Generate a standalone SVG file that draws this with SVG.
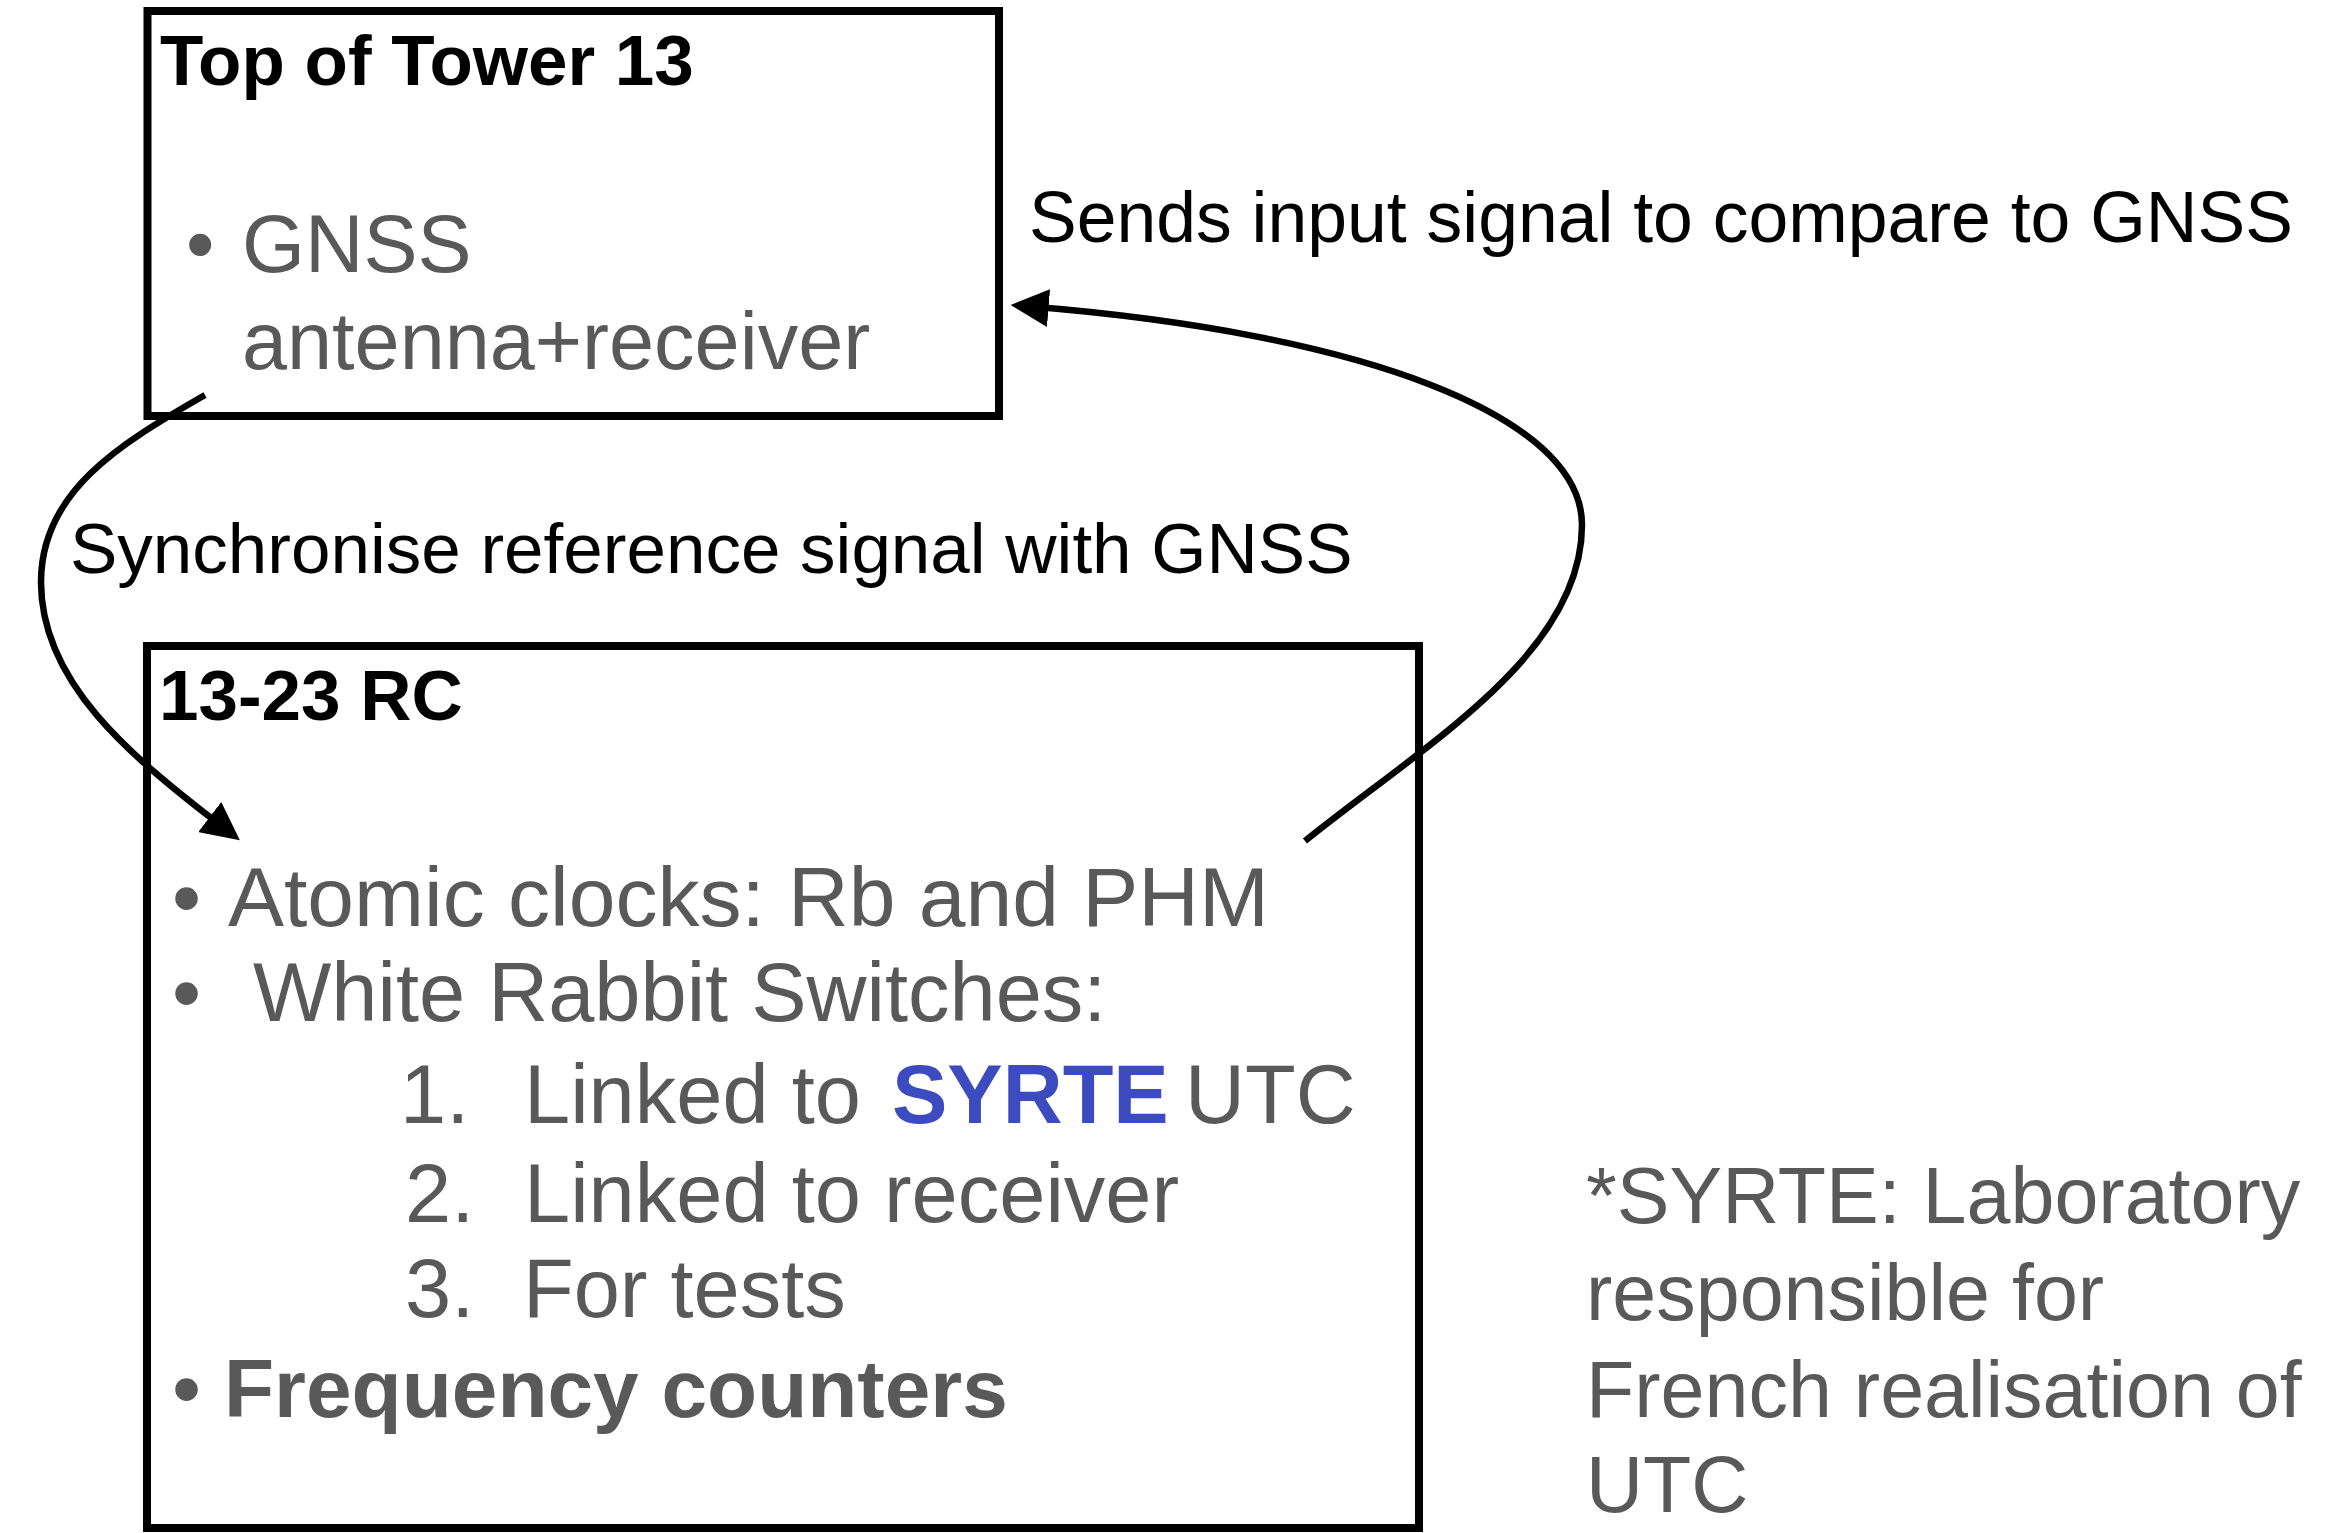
<svg xmlns="http://www.w3.org/2000/svg" width="2347" height="1533" viewBox="0 0 2347 1533">
  <style>
    .box { fill: none; stroke: #000; stroke-width: 8; }
    .title { font-family: "Liberation Sans", Arial, sans-serif; font-weight: bold; font-size: 71px; fill: #000; }
    .item { font-family: "Liberation Sans", Arial, sans-serif; font-size: 83px; fill: #595959; }
    .top { font-size: 81px; }
    .bold { font-weight: bold; font-size: 82px; }
    .syrte { font-weight: bold; fill: #3c4bbf; }
    .label { font-family: "Liberation Sans", Arial, sans-serif; font-size: 71.5px; fill: #000; }
    .note { font-family: "Liberation Sans", Arial, sans-serif; font-size: 79px; fill: #595959; }
    .conn { fill: none; stroke: #000; stroke-width: 6.5; }
  </style>
  <defs>
    <marker id="arrow" markerUnits="userSpaceOnUse" markerWidth="38" markerHeight="38" refX="18" refY="19" orient="auto" viewBox="0 0 38 38">
      <path d="M0,0 L38,19 L0,38 z" fill="#000"/>
    </marker>
  </defs>

  <g id="node-top-of-tower">
    <rect class="box" x="147.5" y="11" width="851.5" height="405"/>
    <text class="title" x="160" y="85">Top of Tower 13</text>
    <text class="item top" x="186" y="272">•</text>
    <text class="item top" x="242" y="272">GNSS</text>
    <text class="item top" x="242" y="369">antenna+receiver</text>
  </g>

  <g id="node-rc">
    <rect class="box" x="147" y="646" width="1272" height="882"/>
    <text class="title" x="159" y="720">13-23 RC</text>
    <text class="item" x="172" y="926">•</text>
    <text class="item" x="228" y="926" style="font-size:84px">Atomic clocks: Rb and PHM</text>
    <text class="item" x="172" y="1021">•</text>
    <text class="item" x="253" y="1021">White Rabbit Switches:</text>
    <text class="item" x="400" y="1123">1.</text>
    <text class="item" x="524" y="1123">Linked to <tspan class="syrte" x="892">SYRTE</tspan><tspan x="1185">UTC</tspan></text>
    <text class="item" x="405" y="1222">2.</text>
    <text class="item" x="524" y="1222">Linked to receiver</text>
    <text class="item" x="405" y="1317">3.</text>
    <text class="item" x="523" y="1317">For tests</text>
    <text class="item" x="172" y="1417">•</text>
    <text class="item bold" x="224" y="1417">Frequency counters</text>
  </g>

  <g id="footnote">
    <text class="note" x="1586" y="1223">*SYRTE: Laboratory</text>
    <text class="note" x="1586" y="1320">responsible for</text>
    <text class="note" x="1586" y="1417">French realisation of</text>
    <text class="note" x="1586" y="1512">UTC</text>
  </g>

  <g id="connectors">
    <path id="sync" class="conn" marker-end="url(#arrow)" d="M205,395 C118,445 41,492 41,582 C41,682 128.8,755 224,828"/>
    <text class="label" x="70" y="573" style="font-size:71px">Synchronise reference signal with GNSS</text>
    <path id="sends" class="conn" marker-end="url(#arrow)" d="M1305,841 C1422,746.5 1582,655 1582,525 C1582,415 1359.6,333 1030.6,306.6"/>
    <text class="label" x="1029" y="242">Sends input signal to compare to GNSS</text>
  </g>
</svg>
